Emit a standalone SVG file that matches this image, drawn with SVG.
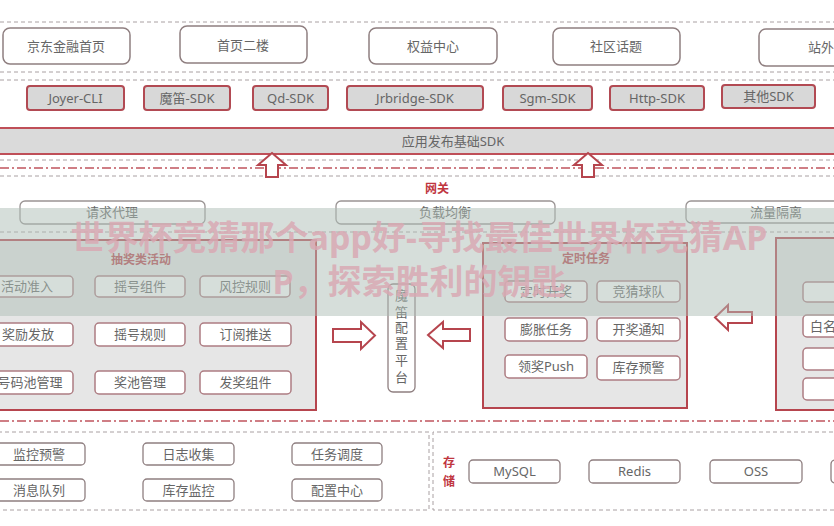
<svg xmlns="http://www.w3.org/2000/svg" width="834" height="526" viewBox="0 0 834 526">
<style>
text{font-family:"Noto Sans","Noto Sans CJK SC",sans-serif;font-size:13px;fill:#666;text-anchor:middle}
.top{fill:#fff;stroke:#8f7f80;stroke-width:1.5}
.sdk{fill:#d8d8d8;stroke:#b24a53;stroke-width:2}
.band{fill:#dadada;stroke:#bf4f58;stroke-width:2}
.gw{fill:#fff;stroke:#9a9494;stroke-width:1.3}
.sec{fill:#e6e6e6;stroke:#b6454e;stroke-width:2}
.item{fill:#fff;stroke:#ad7c82;stroke-width:1.5}
.plain{fill:#fff;stroke:#8f7f80;stroke-width:1.3}
.dash{stroke:#a9a0a2;stroke-width:1;stroke-dasharray:4 3;fill:none}
.dd{stroke:#c0545d;stroke-width:1.5;stroke-dasharray:9 3 2 3;fill:none}
.arr{fill:#fff;stroke:#b6454e;stroke-width:2;stroke-linejoin:miter}
.red{fill:#c0363f;font-weight:bold;font-size:12px}
.ttl{fill:#b8434b;font-weight:bold;font-size:12px}
.wm{font-size:34px;font-weight:bold;fill:#d9a9b3;fill-opacity:0.85}
</style>
<rect width="834" height="526" fill="#fff"/>
<g id="separators">
<line class="dash" x1="0" y1="22" x2="834" y2="22"/>
<line class="dash" x1="0" y1="72" x2="834" y2="72"/>
<line class="dash" x1="0" y1="80" x2="834" y2="80"/>
<line class="dash" x1="0" y1="160" x2="834" y2="160"/>
<line class="dd" x1="0" y1="168" x2="834" y2="168"/>
<line class="dash" x1="0" y1="176" x2="834" y2="176"/>
<line class="dash" x1="0" y1="232" x2="834" y2="232"/>
<line class="dd" x1="0" y1="421" x2="834" y2="421"/>
<path class="dash" d="M-2 432 H429 V510 H-2"/>
<path class="dash" d="M840 432 H433 V510 H840"/>
</g>
<g id="entry">
<g id="n-jdjr"><rect class="top" x="3" y="28" width="127" height="36" rx="7"/><text x="66" y="51">京东金融首页</text></g>
<g id="n-sy2"><rect class="top" x="180" y="26" width="127" height="37" rx="7"/><text x="243" y="50">首页二楼</text></g>
<g id="n-qy"><rect class="top" x="369" y="28" width="128" height="36" rx="7"/><text x="433" y="51">权益中心</text></g>
<g id="n-sq"><rect class="top" x="553" y="28" width="127" height="37" rx="7"/><text x="616" y="51">社区话题</text></g>
<g id="n-zw"><rect class="top" x="759" y="29" width="127" height="37" rx="7"/><text x="808" y="52" style="text-anchor:start">站外</text></g>
</g>
<g id="sdks">
<g id="n-joyer"><rect class="sdk" x="27" y="86" width="97" height="24" rx="3"/><text x="75.5" y="103">Joyer-CLI</text></g>
<g id="n-modi"><rect class="sdk" x="144" y="86" width="86" height="24" rx="3"/><text x="187" y="103">魔笛-SDK</text></g>
<g id="n-qd"><rect class="sdk" x="253" y="86" width="75" height="24" rx="3"/><text x="290.5" y="103">Qd-SDK</text></g>
<g id="n-jrb"><rect class="sdk" x="347" y="86" width="136" height="24" rx="3"/><text x="415" y="103">Jrbridge-SDK</text></g>
<g id="n-sgm"><rect class="sdk" x="503" y="86" width="89" height="24" rx="3"/><text x="547.5" y="103">Sgm-SDK</text></g>
<g id="n-http"><rect class="sdk" x="610" y="86" width="94" height="24" rx="3"/><text x="657" y="103">Http-SDK</text></g>
<g id="n-other"><rect class="sdk" x="722" y="85" width="93" height="23" rx="3"/><text x="768.5" y="101">其他SDK</text></g>
</g>
<g id="n-base"><rect class="band" x="-5" y="128" width="845" height="26"/><text x="453" y="146">应用发布基础SDK</text></g>
<g id="gateway">
<text class="red" x="437" y="193">网关</text>
<g id="n-proxy"><rect class="gw" x="20" y="201" width="185" height="23" rx="5"/><text x="112" y="217">请求代理</text></g>
<g id="n-lb"><rect class="gw" x="336" y="201" width="219" height="23" rx="5"/><text x="445" y="217">负载均衡</text></g>
<g id="n-iso"><rect class="gw" x="686" y="201" width="180" height="22" rx="5"/><text x="776" y="217">流量隔离</text></g>
</g>
<g id="sec-lottery">
<rect class="sec" x="-34" y="240" width="350" height="170"/>
<text class="ttl" x="141" y="264">抽奖类活动</text>
<g id="n-a1"><rect class="item" x="-19" y="276" width="92" height="21" rx="4"/><text x="27" y="291">活动准入</text></g>
<g id="n-a2"><rect class="item" x="95" y="276" width="90" height="21" rx="4"/><text x="140" y="291">摇号组件</text></g>
<g id="n-a3"><rect class="item" x="200" y="276" width="90" height="21" rx="4"/><text x="245" y="291">风控规则</text></g>
<g id="n-a4"><rect class="item" x="-19" y="323" width="92" height="23" rx="4"/><text x="28" y="339">奖励发放</text></g>
<g id="n-a5"><rect class="item" x="95" y="323" width="90" height="23" rx="4"/><text x="140" y="339">摇号规则</text></g>
<g id="n-a6"><rect class="item" x="200" y="323" width="91" height="23" rx="4"/><text x="245.5" y="339">订阅推送</text></g>
<g id="n-a7"><rect class="item" x="-19" y="371" width="92" height="23" rx="4"/><text x="30" y="387">号码池管理</text></g>
<g id="n-a8"><rect class="item" x="95" y="371" width="90" height="23" rx="4"/><text x="140" y="387">奖池管理</text></g>
<g id="n-a9"><rect class="item" x="200" y="371" width="91" height="23" rx="4"/><text x="245.5" y="387">发奖组件</text></g>
</g>
<g id="n-config">
<rect class="plain" x="388" y="284" width="27" height="108" rx="5"/>
<text x="401.5" y="300">魔</text><text x="401.5" y="317">笛</text><text x="401.5" y="332">配</text><text x="401.5" y="348">置</text><text x="401.5" y="365">平</text><text x="401.5" y="382">台</text>
</g>
<g id="sec-timer">
<rect class="sec" x="483" y="243" width="204" height="165"/>
<text class="ttl" x="586" y="263">定时任务</text>
<g id="n-t1"><rect class="item" x="505" y="281" width="82" height="21" rx="4"/><text x="546" y="296">定时开奖</text></g>
<g id="n-t2"><rect class="item" x="597" y="281" width="83" height="21" rx="4"/><text x="638.5" y="296">竞猜球队</text></g>
<g id="n-t3"><rect class="item" x="505" y="318" width="82" height="23" rx="4"/><text x="546" y="334">膨胀任务</text></g>
<g id="n-t4"><rect class="item" x="597" y="318" width="83" height="23" rx="4"/><text x="638.5" y="334">开奖通知</text></g>
<g id="n-t5"><rect class="item" x="505" y="355" width="82" height="23" rx="4"/><text x="546" y="371">领奖Push</text></g>
<g id="n-t6"><rect class="item" x="597" y="356" width="83" height="24" rx="4"/><text x="638.5" y="372">库存预警</text></g>
</g>
<g id="sec-right">
<rect class="sec" x="776" y="238" width="70" height="172"/>
<g id="n-r1"><rect class="item" x="803" y="282" width="60" height="20" rx="4"/></g>
<g id="n-r2"><rect class="item" x="803" y="315" width="60" height="22" rx="4"/><text x="810" y="331" style="text-anchor:start">白名单</text></g>
<g id="n-r3"><rect class="item" x="803" y="348" width="60" height="22" rx="4"/></g>
<g id="n-r4"><rect class="item" x="803" y="378" width="60" height="22" rx="4"/></g>
</g>
<g id="infra">
<g id="n-mon"><rect class="plain" x="-7" y="443" width="92" height="22" rx="4"/><text x="39" y="459">监控预警</text></g>
<g id="n-log"><rect class="plain" x="143" y="443" width="91" height="22" rx="4"/><text x="188.5" y="459">日志收集</text></g>
<g id="n-job"><rect class="plain" x="292" y="443" width="90" height="22" rx="4"/><text x="337" y="459">任务调度</text></g>
<g id="n-mq"><rect class="plain" x="-7" y="479" width="92" height="22" rx="4"/><text x="39" y="495">消息队列</text></g>
<g id="n-stock"><rect class="plain" x="143" y="479" width="91" height="22" rx="4"/><text x="188.5" y="495">库存监控</text></g>
<g id="n-cfg"><rect class="plain" x="292" y="479" width="90" height="22" rx="4"/><text x="337" y="495">配置中心</text></g>
</g>
<g id="storage">
<text class="red" x="449" y="467">存</text><text class="red" x="449" y="486">储</text>
<g id="n-mysql"><rect class="plain" x="469" y="460" width="91" height="23" rx="4"/><text x="514.5" y="476">MySQL</text></g>
<g id="n-redis"><rect class="plain" x="589" y="460" width="91" height="23" rx="4"/><text x="634.5" y="476">Redis</text></g>
<g id="n-oss"><rect class="plain" x="710" y="460" width="92" height="23" rx="4"/><text x="756" y="476">OSS</text></g>
<g id="n-more"><rect class="plain" x="831" y="460" width="40" height="23" rx="4"/></g>
</g>
<g id="connectors">
<path class="arr" d="M272 153 L286 165 L278 165 L278 177 L266 177 L266 165 L258 165 Z"/>
<path class="arr" d="M588 153 L602 165 L594 165 L594 177 L582 177 L582 165 L574 165 Z"/>
<path class="arr" d="M333 329 L361 329 L361 322 L375 335.5 L361 349 L361 342 L333 342 Z"/>
<path class="arr" d="M470 329 L443 329 L443 322 L428 335 L443 348 L443 341 L470 341 Z"/>
<path class="arr" d="M752 312 L728 312 L728 305 L715 317.5 L728 330 L728 323 L752 323 Z"/>
</g>
<g id="watermark">
<rect x="0" y="208" width="834" height="108" fill="#adbdb5" fill-opacity="0.5"/>
<text class="wm" x="419" y="250">世界杯竞猜那个app好-寻找最佳世界杯竞猜AP</text>
<text class="wm" x="419" y="294">P，探索胜利的钥匙</text>
</g>
</svg>
